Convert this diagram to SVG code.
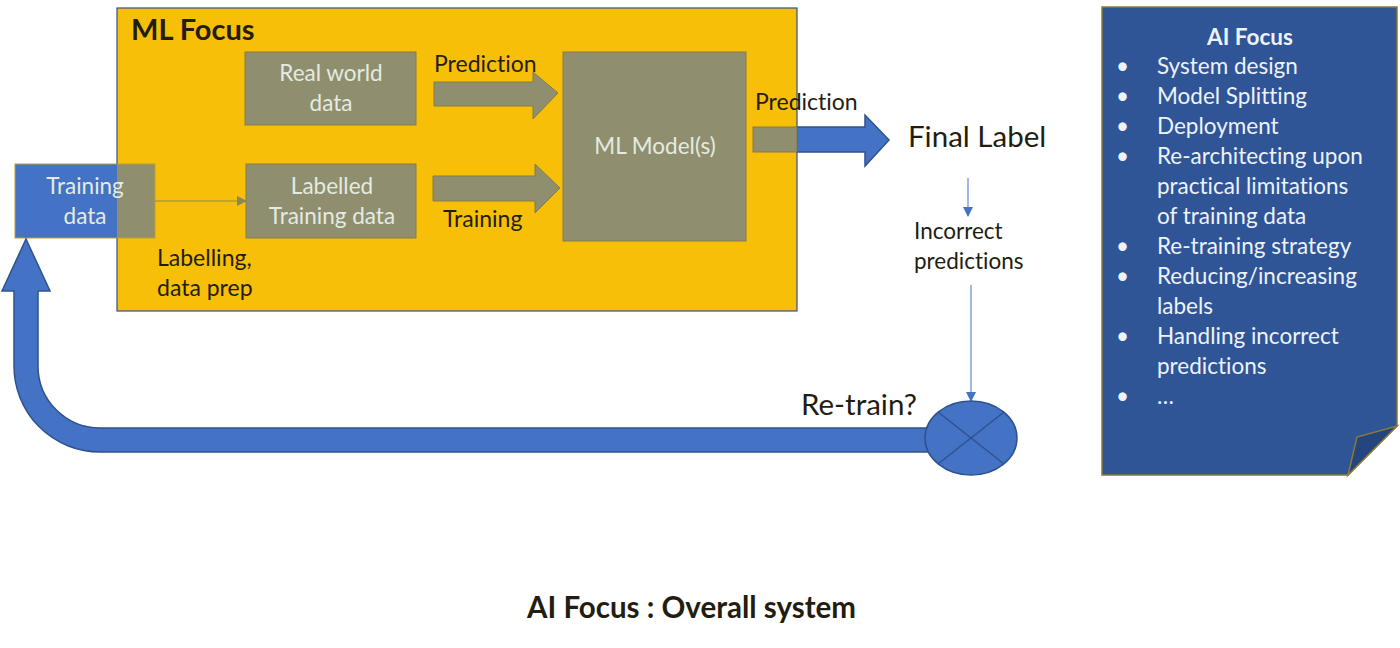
<svg xmlns="http://www.w3.org/2000/svg" width="1400" height="648" viewBox="0 0 1400 648">
<defs>
<style>
text{font-family:Lato,"Open Sans","Liberation Sans",sans-serif;font-variant-ligatures:none}
.dk{fill:#231d10}
.lt{fill:#e4ebe0}
.wt{fill:#eef2fa}
.grey{fill:#8f8f6f;stroke:#857c4a;stroke-width:1}
.blue{fill:#4472c4;stroke:#2f528f;stroke-width:1.5}
</style>
<marker id="ag" markerWidth="10" markerHeight="10" refX="9" refY="5" orient="auto" markerUnits="userSpaceOnUse"><path d="M0,0 L10,5 L0,10 z" fill="#8a8560"/></marker>
<marker id="ab" markerWidth="10" markerHeight="10" refX="9" refY="5" orient="auto" markerUnits="userSpaceOnUse"><path d="M0,0 L10,5 L0,10 z" fill="#4472c4"/></marker>
</defs>
<rect width="1400" height="648" fill="#ffffff"/>

<g id="ml-focus">
<rect x="117" y="8" width="680" height="303" fill="#f8bf08" stroke="#2f528f" stroke-width="1.2"/>
<text x="131" y="40" font-size="29" font-weight="bold" class="dk">ML Focus</text>
</g>

<g id="training-data">
<rect x="15" y="164" width="102" height="74" fill="#4472c4"/>
<rect x="117" y="164" width="38" height="74" fill="#8f8f6f"/>
<rect x="15" y="164" width="140" height="74" fill="none" stroke="#b8a030" stroke-width="1"/>
<text x="85" y="194" font-size="22.5" text-anchor="middle" class="lt">Training</text>
<text x="85" y="224" font-size="22.5" text-anchor="middle" class="lt">data</text>
</g>

<g id="real-world-data">
<rect x="245" y="52" width="171" height="73" class="grey"/>
<text x="331" y="81" font-size="22.5" text-anchor="middle" class="lt">Real world</text>
<text x="331" y="111" font-size="22.5" text-anchor="middle" class="lt">data</text>
</g>

<g id="labelled-training-data">
<rect x="246" y="164" width="170" height="74" class="grey"/>
<text x="332" y="194" font-size="22.5" text-anchor="middle" class="lt">Labelled</text>
<text x="332" y="224" font-size="22.5" text-anchor="middle" class="lt">Training data</text>
</g>

<g id="ml-model">
<rect x="563" y="52" width="183" height="189" class="grey"/>
<text x="655" y="154" font-size="22.5" text-anchor="middle" class="lt">ML Model(s)</text>
</g>

<g id="final-label">
<text x="908" y="147" font-size="29.5" class="dk">Final Label</text>
</g>

<g id="incorrect-predictions">
<text x="914" y="239" font-size="22.5" class="dk">Incorrect</text>
<text x="914" y="269" font-size="22.5" class="dk">predictions</text>
</g>

<g id="retrain">
<text x="801" y="415" font-size="29.5" class="dk">Re-train?</text>
</g>

<g id="connectors">
<path d="M434,82 H533 V72 L558,93 L533,119 V106 H434 Z" class="grey"/>
<path d="M433,176 H535 V164 L560,188 L535,213 V201 H433 Z" class="grey"/>
<path d="M797,127 H865 V115 L889,140 L865,166 V152 H797 Z" class="blue"/>
<rect x="753" y="127" width="44" height="25" class="grey"/>
<text x="434" y="72" font-size="23" class="dk">Prediction</text>
<text x="443" y="227" font-size="23" class="dk">Training</text>
<text x="755" y="110" font-size="23" class="dk">Prediction</text>
<text x="157" y="266" font-size="23" class="dk">Labelling,</text>
<text x="157" y="296" font-size="23" class="dk">data prep</text>
<line x1="155" y1="201" x2="246" y2="201" stroke="#8a8560" stroke-width="1" marker-end="url(#ag)"/>
<line x1="968" y1="178" x2="968" y2="216" stroke="#4472c4" stroke-width="1" marker-end="url(#ab)"/>
<line x1="971" y1="285" x2="971" y2="401" stroke="#4472c4" stroke-width="1" marker-end="url(#ab)"/>
<path d="M930,428 H100 A62,62 0 0 1 38,366 V291 H50 L26,239 L2,291 H14 V366 A86,86 0 0 0 100,452 H930 Z" class="blue"/>
</g>

<g id="retrain-junction">
<ellipse cx="971" cy="438" rx="46" ry="37" class="blue"/>
<line x1="938" y1="412" x2="1004" y2="464" stroke="#2f528f" stroke-width="1.5"/>
<line x1="1004" y1="412" x2="938" y2="464" stroke="#2f528f" stroke-width="1.5"/>
</g>

<g id="ai-focus-note">
<path d="M1102,7 H1397 V426 L1348,475 H1102 Z" fill="#2f5597" stroke="#8a7a35" stroke-width="1.5"/>
<path d="M1348,475 L1357,437 L1397,426 Z" fill="#25457e" stroke="#8a7a35" stroke-width="1.5"/>
<text x="1250" y="45" font-size="22.5" font-weight="bold" text-anchor="middle" class="wt">AI Focus</text>
<g font-size="22.5" class="wt">
<text x="1116" y="74">•</text><text x="1157" y="74">System design</text>
<text x="1116" y="104">•</text><text x="1157" y="104">Model Splitting</text>
<text x="1116" y="134">•</text><text x="1157" y="134">Deployment</text>
<text x="1116" y="164">•</text><text x="1157" y="164">Re-architecting upon</text>
<text x="1157" y="194">practical limitations</text>
<text x="1157" y="224">of training data</text>
<text x="1116" y="254">•</text><text x="1157" y="254">Re-training strategy</text>
<text x="1116" y="284">•</text><text x="1157" y="284">Reducing/increasing</text>
<text x="1157" y="314">labels</text>
<text x="1116" y="344">•</text><text x="1157" y="344">Handling incorrect</text>
<text x="1157" y="374">predictions</text>
<text x="1116" y="404">•</text><text x="1157" y="404">…</text>
</g>
</g>

<g id="caption">
<text x="527" y="618" font-size="29.5" font-weight="bold" class="dk">AI Focus : Overall system</text>
</g>
</svg>
